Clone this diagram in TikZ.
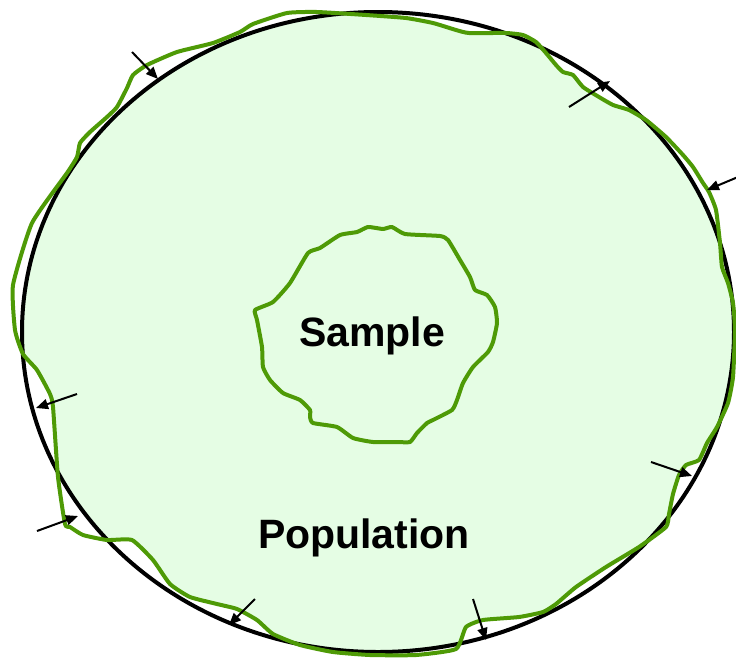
\documentclass[tikz,border=0pt]{standalone}
\usepackage{fontspec}
\setmainfont{Liberation Sans}
\usetikzlibrary{arrows.meta}
\definecolor{popfill}{RGB}{229,253,228}
\definecolor{popgreen}{RGB}{78,154,6}
\def\outerpath{plot[smooth cycle, tension=0.3] coordinates {(366,15) (406,18) (433,23) (456,30) (469,33) (506,33) (523,35) (536,42) (546,53) (556,65) (563,72) (573,75) (583,87) (599,97) (613,105) (629,110) (646,120) (666,137) (683,155) (693,167) (703,183) (709,192) (716,210) (720,243) (722,267) (728,283) (733,303) (735,330) (733,377) (728,403) (717,427) (707,443) (699,460) (686,465) (679,475) (673,494) (669,514) (666,527) (639,547) (606,567) (576,587) (556,604) (543,612) (519,617) (483,620) (466,627) (456,649) (416,655) (370,655) (333,652) (300,645) (273,634) (257,620) (237,609) (217,604) (190,597) (170,584) (153,560) (132,540) (107,540) (83,535) (70,527) (65,524) (58,477) (53,407) (50,394) (37,370) (23,354) (15,330) (13,285) (32,223) (67,173) (77,157) (80,143) (90,132) (107,117) (117,107) (127,88) (133,75) (147,65) (177,52) (213,43) (240,32) (253,24) (287,13) (317,12)}}
\def\samplepath{plot[smooth cycle, tension=0.3] coordinates {(255,310) (273,302) (290,283) (308,253) (320,248) (340,235) (357,232) (368,227) (383,229) (392,227) (405,234) (440,236) (448,240) (460,260) (470,277) (475,290) (487,295) (495,307) (497,323) (493,342) (488,352) (473,367) (463,383) (457,400) (452,410) (433,420) (427,423) (417,433) (410,442) (397,442) (373,442) (353,438) (337,427) (313,423) (310,417) (310,410) (300,400) (283,393) (270,380) (263,367) (262,347) (257,320)}}
\tikzset{
  greenline/.style={draw=popgreen, line width=4pt, line join=round},
  blackline/.style={draw=black, line width=4pt},
  pointer/.style={draw=black, line width=2pt, -{Triangle[length=12pt,width=10pt]}},
  biglabel/.style={font=\fontsize{41}{49}\selectfont\bfseries, inner sep=0pt}
}
\begin{document}
\begin{tikzpicture}[x=1pt,y=-1pt]
\useasboundingbox (0,0) rectangle (736,657);
\begin{scope}
  \clip (378,332) ellipse [x radius=356, y radius=320];
  \fill[popfill] \outerpath;
\end{scope}
\draw[blackline] (378,332) ellipse [x radius=356, y radius=320];
\draw[greenline] \outerpath;
\draw[greenline] \samplepath;
\node[biglabel] (sample) at (372,336) {Sample};
\node[biglabel] (population) at (364,538) {Population};
% arrows
\coordinate (a1s) at (132,52);  \coordinate (a1e) at (158,79);
\coordinate (a2s) at (569,107); \coordinate (a2e) at (610,81);
\coordinate (a3s) at (738,177); \coordinate (a3e) at (707,190);
\coordinate (a4s) at (77,394);  \coordinate (a4e) at (36,408);
\coordinate (a5s) at (37,531);  \coordinate (a5e) at (78,516);
\coordinate (a6s) at (255,599); \coordinate (a6e) at (229,625);
\coordinate (a7s) at (473,599); \coordinate (a7e) at (486,640);
\coordinate (a8s) at (651,462); \coordinate (a8e) at (692,476);
\foreach \i in {1,...,8} {\draw[pointer] (a\i s) -- (a\i e);}
\end{tikzpicture}
\end{document}
